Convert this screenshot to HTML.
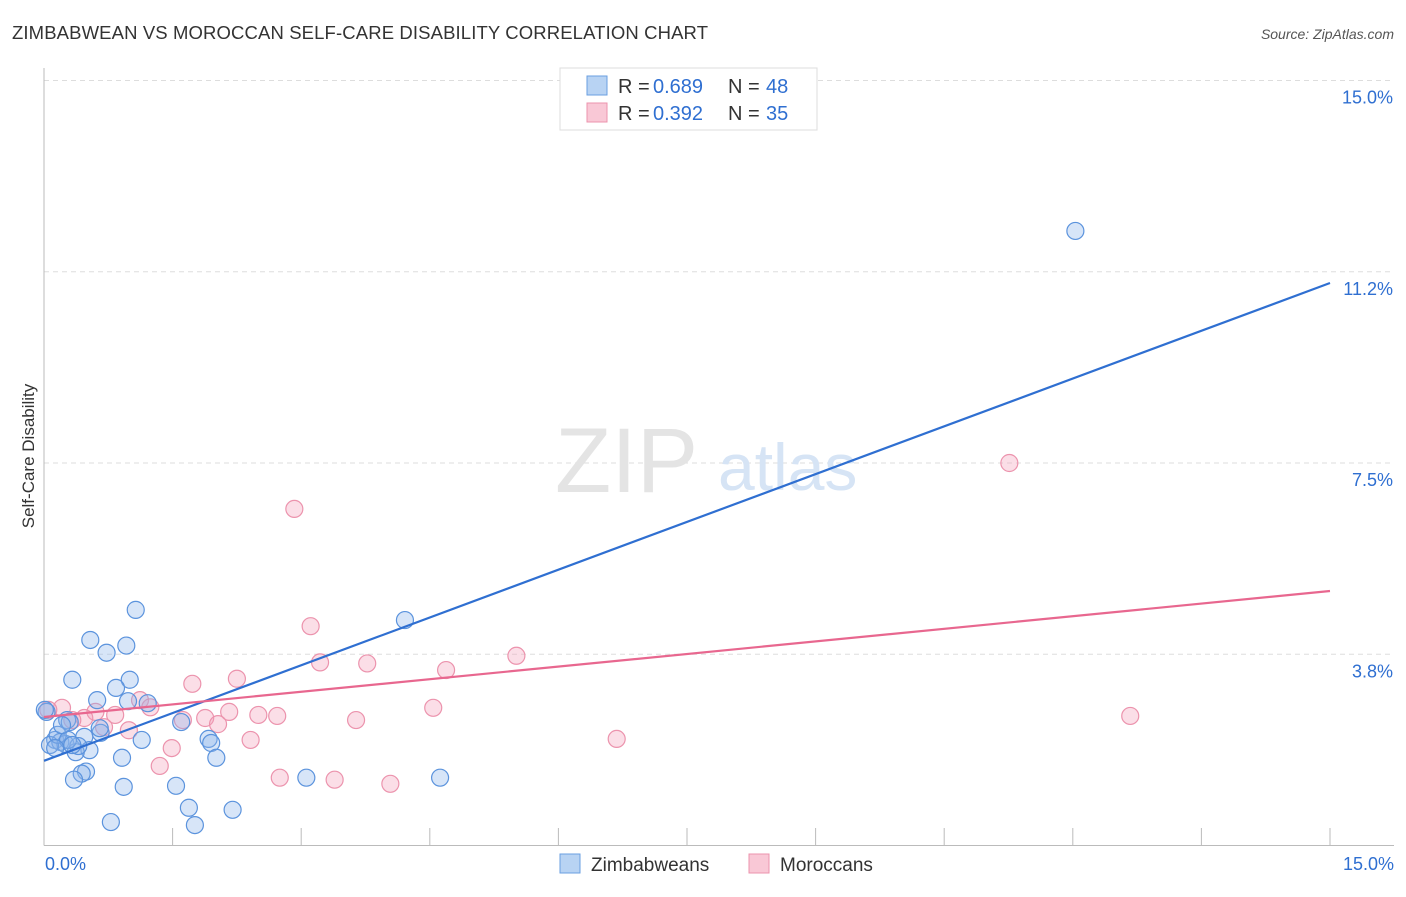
<!DOCTYPE html>
<html><head><meta charset="utf-8"><style>
body{margin:0;background:#fff;font-family:"Liberation Sans",sans-serif}
svg text{font-family:"Liberation Sans",sans-serif}
</style></head><body>
<svg id="chart" width="1406" height="892">
<text x="12" y="39" font-size="18.5" fill="#333" textLength="696">ZIMBABWEAN VS MOROCCAN SELF-CARE DISABILITY CORRELATION CHART</text>
<text x="1394" y="39" font-size="14" fill="#555" text-anchor="end" font-style="italic">Source: ZipAtlas.com</text>
<text transform="translate(34,456) rotate(-90)" font-size="17" fill="#333" text-anchor="middle">Self-Care Disability</text>
<g id="grid"></g>
<text x="555" y="492" font-size="92" fill="#e4e4e4" font-family="Liberation Serif">ZIP</text>
<text x="718" y="490" font-size="66" fill="#d6e4f5">atlas</text>
<g id="pts"></g>
<g id="lines"></g>
<g>
<rect x="560" y="68" width="257" height="62" fill="#fff" stroke="#ddd"/>
<rect x="587" y="76" width="20" height="19" fill="#b8d3f3" stroke="#6a9fe0"/>
<rect x="587" y="103" width="20" height="19" fill="#f9c8d6" stroke="#ec93ad"/>
<text x="618" y="93" font-size="20" fill="#333">R =</text>
<text x="653" y="93" font-size="20" fill="#2f6fd1">0.689</text>
<text x="728" y="93" font-size="20" fill="#333">N =</text>
<text x="766" y="93" font-size="20" fill="#2f6fd1">48</text>
<text x="618" y="120" font-size="20" fill="#333">R =</text>
<text x="653" y="120" font-size="20" fill="#2f6fd1">0.392</text>
<text x="728" y="120" font-size="20" fill="#333">N =</text>
<text x="766" y="120" font-size="20" fill="#2f6fd1">35</text>
</g>
<g>
<rect x="560" y="854" width="20" height="19" fill="#b8d3f3" stroke="#6a9fe0"/>
<text x="591" y="871" font-size="19" fill="#333">Zimbabweans</text>
<rect x="749" y="854" width="20" height="19" fill="#f9c8d6" stroke="#ec93ad"/>
<text x="780" y="871" font-size="19" fill="#333">Moroccans</text>
</g>
</svg>
<script>
const yTicks=[3.75,7.5,11.25,15];
const yTickLabels=["3.8%","7.5%","11.2%","15.0%"];
const xTickLabels=["0.0%","15.0%"];
const blueX=[12.03,4.21,1.07,0.54,0.96,0.73,0.33,1.00,0.84,0.62,0.98,1.21,0.27,0.30,1.60,0.66,0.47,0.13,0.19,0.25,0.07,0.16,1.14,1.92,1.95,0.53,0.37,0.40,0.91,2.01,0.49,0.44,0.35,0.93,1.54,3.06,4.62,1.69,2.20,0.78,1.76,0.03,0.28,0.65,0.21,0.33,0.13,0.01];
const blueY=[12.05,4.42,4.62,4.03,3.92,3.78,3.25,3.25,3.09,2.85,2.83,2.79,2.46,2.42,2.42,2.21,2.13,2.07,2.03,1.99,1.97,2.17,2.07,2.09,2.01,1.87,1.83,1.95,1.72,1.72,1.45,1.41,1.29,1.15,1.17,1.33,1.33,0.74,0.70,0.46,0.40,2.62,2.07,2.30,2.36,1.97,1.91,2.66];
const pinkX=[11.26,2.92,3.11,3.22,3.77,4.69,5.51,1.73,2.25,1.12,1.24,0.60,0.47,0.21,0.05,0.83,1.62,1.88,2.16,2.50,2.72,2.03,3.64,4.54,0.99,0.70,1.49,2.41,6.68,1.35,2.75,3.39,4.04,12.67,0.33];
const pinkY=[7.50,6.60,4.30,3.59,3.57,3.44,3.72,3.17,3.27,2.85,2.71,2.62,2.50,2.70,2.66,2.56,2.46,2.50,2.62,2.56,2.54,2.38,2.46,2.70,2.26,2.32,1.91,2.07,2.09,1.56,1.33,1.29,1.21,2.54,2.46];
const blueFit=[1.66,11.03];
const pinkFit=[2.52,4.99];
const xMax=15;
const X=v=>44+v/xMax*1286;
const Y=v=>845.5-v*51;
const NS='http://www.w3.org/2000/svg';
function mk(t,a,p){const e=document.createElementNS(NS,t);for(const k in a)e.setAttribute(k,a[k]);p.appendChild(e);return e;}
const g=document.getElementById('grid');
yTicks.forEach((t,i)=>{
 const l=mk('line',{x1:44,x2:1394,y1:Y(t),y2:Y(t),stroke:'#ddd','stroke-dasharray':'5,4'},g);
 
 
 const tx=mk('text',{x:1393,y:Y(t)+23,'font-size':18,fill:'#2f6fd1','text-anchor':'end'},g);
 tx.textContent=yTickLabels[i];
 
 
});
const ax=mk('line',{x1:44,x2:1394,y1:845.5,y2:845.5,stroke:'#bbb'},g);


const ay=mk('line',{x1:44,x2:44,y1:68,y2:845.5,stroke:'#bbb'},g);


for(let i=0;i<=10;i++){
 const v=i*1.5;
 const t=mk('line',{x1:X(v),x2:X(v),y1:828,y2:845.5,stroke:'#bbb'},g);
 
 
}
[[0,'start',45],[xMax,'end',1394]].forEach((d,i)=>{
 const tx=mk('text',{x:d[2],y:870,'font-size':18,fill:'#2f6fd1','text-anchor':d[1]},g);
 tx.textContent=xTickLabels[i];
 
 
});
const P=document.getElementById('pts');
pinkX.forEach((x,i)=>{
 const c=mk('circle',{cx:X(x),cy:Y(pinkY[i]),r:8.5,fill:'rgba(244,160,185,0.35)',stroke:'#ec93ad','stroke-width':1.2},P);
 
 
});
blueX.forEach((x,i)=>{
 const c=mk('circle',{cx:X(x),cy:Y(blueY[i]),r:8.5,fill:'rgba(140,180,235,0.35)',stroke:'#5b93dd','stroke-width':1.2},P);
 
 
});
const L=document.getElementById('lines');
const bl=mk('line',{x1:X(0),y1:Y(blueFit[0]),x2:X(xMax),y2:Y(blueFit[1]),stroke:'#2f6fd1','stroke-width':2.2},L);


const pl=mk('line',{x1:X(0),y1:Y(pinkFit[0]),x2:X(xMax),y2:Y(pinkFit[1]),stroke:'#e8678f','stroke-width':2.2},L);


</script>
</body></html>
